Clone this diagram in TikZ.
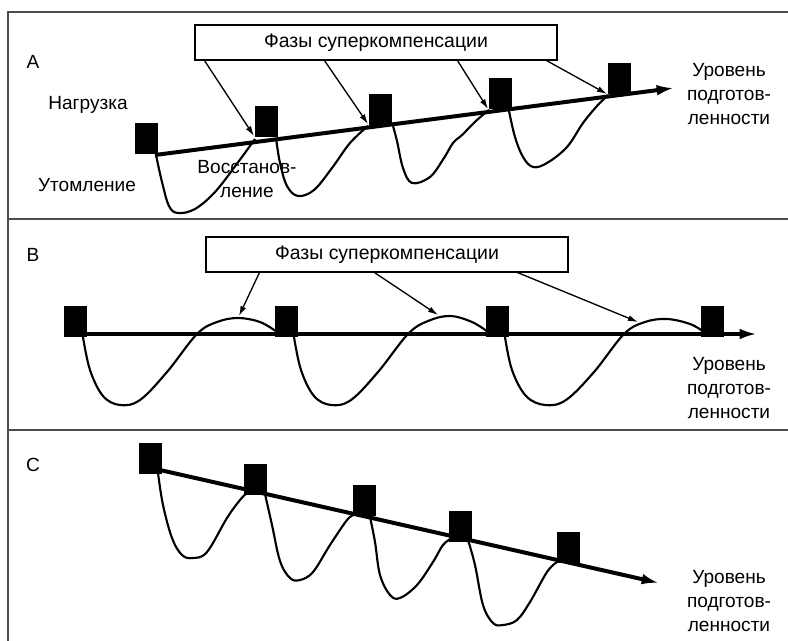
\documentclass[tikz,border=0pt]{standalone}
\usepackage{fontspec}
\setmainfont{Liberation Sans}
\usetikzlibrary{arrows.meta}
\begin{document}
\begin{tikzpicture}[x=0.75pt,y=-0.75pt,
  txt/.style={font=\fontsize{14.3}{18}\selectfont,inner sep=0pt},
  blk/.style={fill=black,draw=none,minimum width=17.25pt,minimum height=23.25pt,inner sep=0pt},
  frame/.style={draw=black!70,line width=1.5pt},
  axisline/.style={line width=3pt,-{Latex[length=13pt,width=8pt]}},
  wave/.style={line width=1.6pt,line join=round},
  pointer/.style={line width=1pt,-{Latex[length=7.5pt,width=4.5pt]}},
  phasebox/.style={draw,line width=0.8pt,minimum width=271.5pt,minimum height=26.25pt,inner sep=0pt,font=\fontsize{14.6}{18}\selectfont},
  lvl/.style={txt,align=center}
]
\useasboundingbox (0,0) rectangle (788,641);
% frame
\draw[frame] (788,12) -- (8,12) -- (8,641);
\draw[frame] (8,219) -- (788,219);
\draw[frame] (8,430) -- (788,430);

% ================= Panel A =================
\node[txt] (labA) at (33,62) {A};
\node[txt] (load) at (88,105) {Нагрузка};
\node[txt] (fatigue) at (87,185) {Утомление};
\node[txt,align=center] (recov) at (247,179) {Восстанов-\\ление};
\node[lvl] (lvlA) at (729,94) {Уровень\\подготов-\\ленности};
\node[phasebox] (boxA) at (376,42.5) {Фазы суперкомпенсации};

\coordinate (axA0) at (155,155);
\coordinate (axA1) at (674,88);
\draw[axisline] (axA0) -- (axA1);

\draw[wave] plot[smooth,tension=0.6] coordinates {(156,155) (162,182) (169,206) (178,213) (195,209) (215,192) (236,165) (255,139)};
\draw[wave] plot[smooth,tension=0.6] coordinates {(276,138) (280,163) (287,186) (298,196) (314,190) (332,168) (350,143) (368,126)};
\draw[wave] plot[smooth,tension=0.6] coordinates {(393,126) (397,141) (403,168) (412,183) (430,177) (444,158) (453,143) (462,135) (477,120) (489,110)};
\draw[wave] plot[smooth,tension=0.6] coordinates {(509,111) (515,137) (523,157) (533,167) (547,163) (567,147) (583,123) (597,106) (608,95)};

\node[blk] (a1) at (146,138.5) {};
\node[blk] (a2) at (266.5,121.5) {};
\node[blk] (a3) at (380.5,109.5) {};
\node[blk] (a4) at (500.5,94) {};
\node[blk] (a5) at (619.5,78.5) {};

\coordinate (tA1) at (254,136);
\coordinate (tA2) at (368,124);
\coordinate (tA3) at (488,109);
\coordinate (tA4) at (607,94);
\draw[pointer] ([xshift=7.5pt]boxA.south west) -- (tA1);
\draw[pointer] ([xshift=97.5pt]boxA.south west) -- (tA2);
\draw[pointer] ([xshift=197.25pt]boxA.south west) -- (tA3);
\draw[pointer] ([xshift=264pt]boxA.south west) -- (tA4);

% ================= Panel B =================
\node[txt] (labB) at (33,255) {B};
\node[lvl] (lvlB) at (729,388) {Уровень\\подготов-\\ленности};
\node[phasebox] (boxB) at (387,254.5) {Фазы суперкомпенсации};

\coordinate (axB0) at (75,334);
\coordinate (axB1) at (757,334);
\draw[axisline] (axB0) -- (axB1);

\draw[wave] plot[smooth,tension=0.6] coordinates {(83,337) (90,370) (103,396) (120,405) (140,400) (167,372) (197,334) (217,322) (238,318) (260,322) (277,332)};
\draw[wave] plot[smooth,tension=0.6] coordinates {(294,337) (301,370) (314,396) (331,405) (351,400) (378,372) (408,334) (428,321) (450,316) (472,322) (488,332)};
\draw[wave] plot[smooth,tension=0.6] coordinates {(505,337) (512,370) (526,396) (545,405) (566,400) (594,372) (624,334) (645,322) (667,319) (690,324) (704,332)};

\node[blk] (b1) at (75.5,321.5) {};
\node[blk] (b2) at (286.5,321.5) {};
\node[blk] (b3) at (497.5,321.5) {};
\node[blk] (b4) at (712.5,321.5) {};

\coordinate (tB1) at (239,316);
\coordinate (tB2) at (438,315);
\coordinate (tB3) at (638,322);
\draw[pointer] ([xshift=40.5pt]boxB.south west) -- (tB1);
\draw[pointer] ([xshift=126.75pt]boxB.south west) -- (tB2);
\draw[pointer] ([xshift=234pt]boxB.south west) -- (tB3);

% ================= Panel C =================
\node[txt] (labC) at (33,465) {C};
\node[lvl] (lvlC) at (729,601) {Уровень\\подготов-\\ленности};

\coordinate (axC0) at (160,470);
\coordinate (axC1) at (659,583);
\draw[axisline] (axC0) -- (axC1);

\draw[wave] plot[smooth,tension=0.6] coordinates {(158,473) (163,505) (172,538) (182,555) (193,558) (207,552) (227,518) (240,500) (247,493)};
\draw[wave] plot[smooth,tension=0.6] coordinates {(265,494) (272,525) (280,561) (290,578) (300,580) (313,572) (330,545) (347,520) (354,515)};
\draw[wave] plot[smooth,tension=0.6] coordinates {(370,517) (375,542) (380,575) (390,595) (400,598) (417,585) (433,562) (443,545) (452,538)};
\draw[wave] plot[smooth,tension=0.6] coordinates {(468,540) (475,565) (483,605) (493,623) (503,625) (517,620) (530,602) (547,572) (557,562)};

\node[blk] (c1) at (150.5,458) {};
\node[blk] (c2) at (255.5,479) {};
\node[blk] (c3) at (364.5,500.5) {};
\node[blk] (c4) at (460.5,526) {};
\node[blk] (c5) at (568.5,547.5) {};
\end{tikzpicture}
\end{document}
